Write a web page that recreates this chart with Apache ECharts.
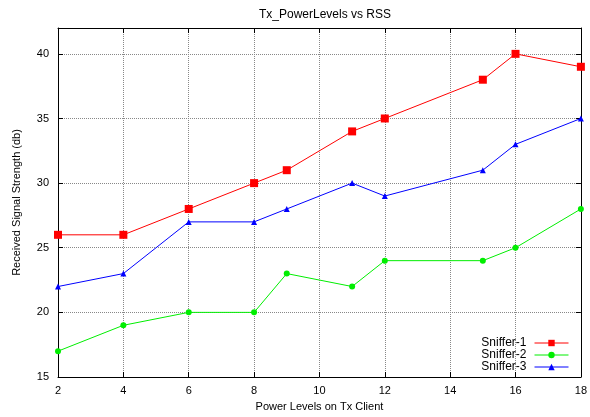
<!DOCTYPE html>
<html>
<head>
<meta charset="utf-8">
<script src="https://cdn.jsdelivr.net/npm/echarts@6/dist/echarts.min.js"></script>
<style>
  html, body { margin: 0; padding: 0; background: #fff; }
  #chart { width: 590px; height: 417px; }
</style>
</head>
<body>
<div id="chart"></div>
<script>
// power levels on the x axis
const powerLevels = [2, 4, 6, 8, 9, 11, 12, 15, 16, 18]
const sniffer1 = [26, 26, 28, 30, 31, 34, 35, 38, 40, 39]
const sniffer2 = [17, 19, 20, 20, 23, 22, 24, 24, 25, 28]
const sniffer3 = [22, 23, 27, 27, 28, 30, 29, 31, 33, 35]

const font = 'Liberation Sans, Arial, sans-serif'
const pairs = (ys) => powerLevels.map((x, i) => [x, ys[i]])

const mycharts = echarts.init(document.getElementById('chart'))

const frameAxis = {
  axisLine: { show: true, lineStyle: { color: '#000', width: 1 } },
  axisTick: { show: true, inside: true, length: 5, lineStyle: { color: '#000' } },
  axisLabel: { show: false },
  splitLine: { show: false },
}

mycharts.setOption({
  animation: false,
  title: {
    text: 'Tx_PowerLevels vs RSS',
    left: 320,
    textAlign: 'center',
    top: 4,
    textStyle: { fontFamily: font, fontSize: 12, fontWeight: 'normal', color: '#000' },
  },
  grid: { left: 58, right: 7, top: 28, bottom: 39 },
  legend: {
    orient: 'vertical',
    right: 21,
    top: 337,
    padding: 0,
    align: 'right',
    itemWidth: 34,
    itemHeight: 8,
    itemGap: 0,
    lineStyle: { width: 1 },
    textStyle: { fontFamily: font, fontSize: 12, lineHeight: 12, color: '#000', padding: [0, 3, 0, 0] },
    data: ['Sniffer-1', 'Sniffer-2', 'Sniffer-3'],
  },
  xAxis: [
    {
      type: 'value',
      min: 2,
      max: 18,
      interval: 2,
      name: 'Power Levels on Tx Client',
      nameLocation: 'middle',
      nameGap: 24,
      nameTextStyle: { fontFamily: font, fontSize: 11, color: '#000' },
      axisLine: { lineStyle: { color: '#000', width: 1 } },
      axisTick: { inside: true, length: 5, lineStyle: { color: '#000' } },
      axisLabel: { fontFamily: font, fontSize: 11, color: '#000', margin: 8 },
      splitLine: { show: true, lineStyle: { color: '#888', type: 'dotted', width: 1 } },
    },
    Object.assign({ type: 'value', position: 'top', min: 2, max: 18, interval: 2 }, frameAxis),
  ],
  yAxis: [
    {
      type: 'value',
      min: 15,
      max: 42,
      interval: 5,
      name: 'Received Signal Strength (db)',
      nameLocation: 'middle',
      nameGap: 36,
      nameTextStyle: { fontFamily: font, fontSize: 11, color: '#000' },
      axisLine: { show: true, lineStyle: { color: '#000', width: 1 } },
      axisTick: { show: true, inside: true, length: 5, lineStyle: { color: '#000' } },
      axisLabel: { fontFamily: font, fontSize: 11, color: '#000', margin: 9, showMaxLabel: false },
      splitLine: { show: true, lineStyle: { color: '#888', type: 'dotted', width: 1 } },
    },
    Object.assign({ type: 'value', position: 'right', min: 15, max: 42, interval: 5 }, frameAxis),
  ],
  series: [
    {
      type: 'line',
      name: 'Sniffer-1',
      data: pairs(sniffer1),
      symbol: 'rect',
      symbolSize: 8,
      lineStyle: { color: '#ff0000', width: 1 },
      itemStyle: { color: '#ff0000' },
    },
    {
      type: 'line',
      name: 'Sniffer-2',
      data: pairs(sniffer2),
      symbol: 'circle',
      symbolSize: 6,
      lineStyle: { color: '#00ee00', width: 1 },
      itemStyle: { color: '#00ee00' },
    },
    {
      type: 'line',
      name: 'Sniffer-3',
      data: pairs(sniffer3),
      symbol: 'triangle',
      symbolSize: 6,
      lineStyle: { color: '#0000ff', width: 1 },
      itemStyle: { color: '#0000ff' },
    },
  ],
})
</script>
</body>
</html>
